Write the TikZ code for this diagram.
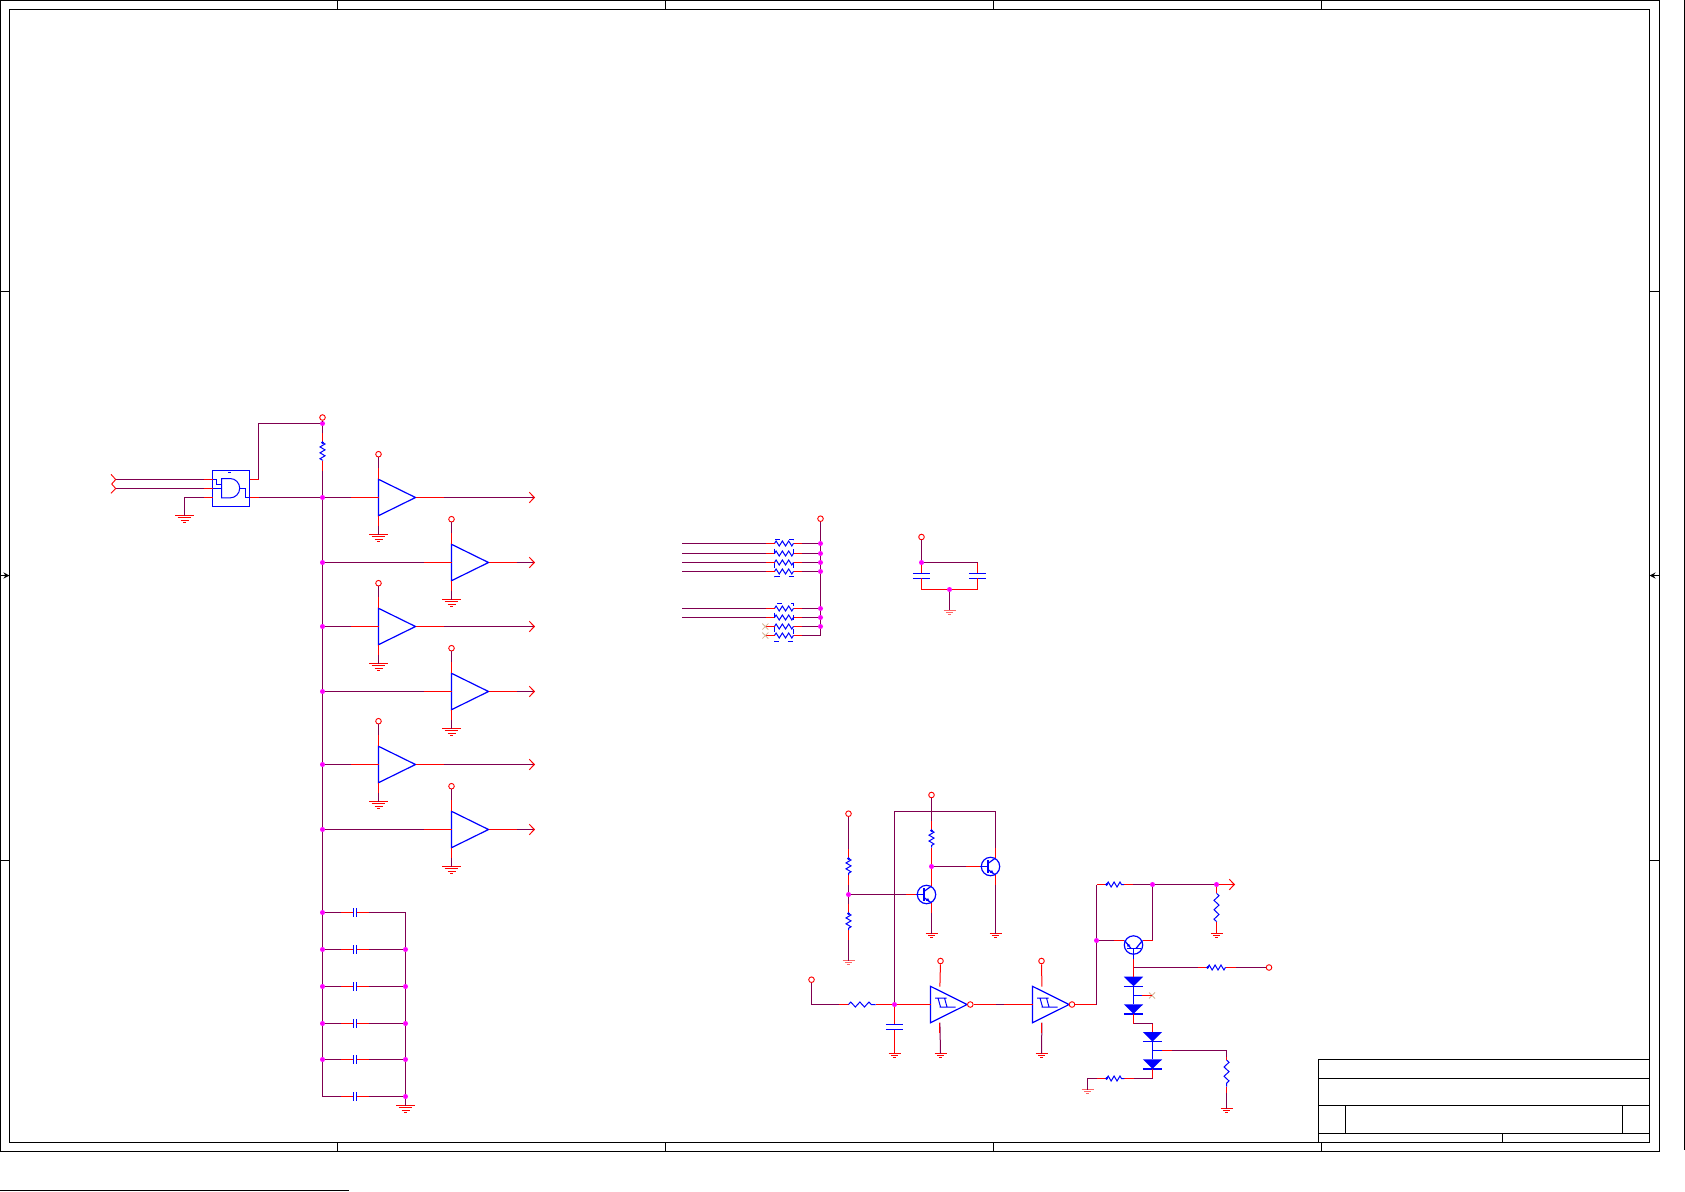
\documentclass[tikz,border=0pt]{standalone}
\usepackage{tikz}
\usetikzlibrary{arrows.meta, decorations.pathmorphing}

\definecolor{netcol}{RGB}{128,0,80}
\definecolor{ncxcol}{RGB}{214,180,150}
\definecolor{dotcol}{RGB}{255,0,255}

\tikzset{
    sheet/.style={draw=black, line width=1pt},
    wire/.style={draw=netcol, line width=1pt},
    pinred/.style={draw=red, line width=1pt},
    part/.style={draw=blue, line width=1.2pt},
    zig/.style={draw=blue, line width=1pt, decorate,
        decoration={zigzag, amplitude=2.5pt, segment length=#1}},
    zig/.default=5.9pt,
    dot/.style={circle, fill=dotcol, inner sep=0pt, minimum size=5pt},
    pwr/.style={circle, draw=red, fill=white, line width=0.9pt, inner sep=0pt, minimum size=5.6pt},
    gatebox/.style={draw=blue, line width=1.2pt, inner sep=0pt, minimum width=37pt, minimum height=36pt},
    outarrow/.style={-{Straight Barb[red, length=5pt, width=10.5pt]}},
    buf/.pic={
        \draw[part] (0,-18.2) -- (37,0) -- (0,18.2) -- cycle;
        \coordinate (-in) at (0,0);
        \coordinate (-out) at (37,0);
        \coordinate (-top) at (0,-18.2);
        \coordinate (-bot) at (0,18.2);
    },
    smt/.pic={
        \draw[part] (0,-18.2) -- (36.6,0) -- (0,18.2) -- cycle;
        \draw[draw=blue, line width=1pt] (4.6,-6.5) -- (16,-6.5) (7.5,-6.5) -- (10,2.5) (14,-6.5) -- (16.5,2.5) (9,2.5) -- (25,2.5);
        \coordinate (-in) at (0,0);
        \coordinate (-out) at (36.6,0);
        \coordinate (-top) at (9.4,-18);
        \coordinate (-bot) at (9.4,18);
    },
    gndbig/.pic={
        \draw[draw=red, line width=1pt] (-9.5,0) -- (9.5,0) (-6.8,2.4) -- (6.8,2.4) (-4,4.8) -- (4,4.8) (-1.5,7.1) -- (1.5,7.1);
    },
    gndsm/.pic={
        \draw[draw=red, line width=1pt] (-6,0) -- (6,0) (-3.6,2.1) -- (3.6,2.1) (-1.6,4.2) -- (1.6,4.2);
    },
    caph/.pic={
        \draw[part] (-1.7,-4.3) -- (-1.7,4.3) (1.7,-4.3) -- (1.7,4.3);
        \coordinate (-a) at (-1.7,0);
        \coordinate (-b) at (1.7,0);
    },
    capv/.pic={
        \draw[part] (-8.7,-2.6) -- (8.7,-2.6) (-8.7,2.6) -- (8.7,2.6);
        \coordinate (-a) at (0,-2.6);
        \coordinate (-b) at (0,2.6);
    },
    qnpn/.pic={
        \draw[part] (0,0) circle (9.2pt);
        \draw[part] (-11,0) -- (-2.6,0) (-2.6,-6.5) -- (-2.6,6.5);
        \draw[part] (-2.6,-3) -- (5,-8.5) (-2.6,3) -- (5,8.5);
        \fill[blue] (2.8,6.8) -- (-0.6,6.2) -- (1.6,3.4) -- cycle;
        \coordinate (-b) at (-11,0);
        \coordinate (-c) at (5,-8.5);
        \coordinate (-e) at (5,8.5);
    },
    qup/.pic={
        \draw[part] (0,0) circle (9.2pt);
        \draw[part] (0,3.4) -- (0,14) (-7,3.4) -- (7,3.4);
        \draw[part] (-2.5,3.4) -- (-9,-4.5) (2.5,3.4) -- (9,-4.5);
        \fill[blue] (-6.6,-1.4) -- (-5.8,2) -- (-3.2,0) -- cycle;
        \coordinate (-b) at (0,14);
        \coordinate (-e) at (-9.4,-4.5);
        \coordinate (-c) at (9,-4.5);
    },
    dio/.pic={
        \fill[blue] (-9.7,0) -- (9.7,0) -- (0,9.5) -- cycle;
        \draw[part] (-9.7,9.6) -- (9.7,9.6);
        \coordinate (-a) at (0,0);
        \coordinate (-k) at (0,9.6);
    },
    noconn/.pic={
        \draw[draw=ncxcol, line width=0.8pt] (-3,-3) -- (3,3) (-3,3) -- (3,-3);
    },
}

\begin{document}
\begin{tikzpicture}[x=1pt, y=-1pt]
    \useasboundingbox (0,0) rectangle (1685,1191);

    % sheet frame
    \draw[sheet] (0.5,0.5) rectangle (1659.5,1151.5);
    \draw[sheet] (9.5,9.5) rectangle (1649.5,1142.5);
    \draw[sheet] (1684.5,0) -- (1684.5,1150);
    \draw[sheet] (0,1190.5) -- (349,1190.5);
    \foreach \x in {337.5,665.5,993.5,1321.5} {
        \draw[sheet] (\x,0.5) -- (\x,9.5);
        \draw[sheet] (\x,1142.5) -- (\x,1151.5);
    }
    \foreach \y in {291.5,860.5} {
        \draw[sheet] (0.5,\y) -- (9.5,\y);
        \draw[sheet] (1649.5,\y) -- (1659.5,\y);
    }
    \draw[sheet, -{Stealth[length=6pt, width=6pt]}] (0.5,575.5) -- (9.5,575.5);
    \draw[sheet, -{Stealth[length=6pt, width=6pt]}] (1659.5,575.5) -- (1649.5,575.5);

    % title block
    \draw[sheet] (1318.5,1059.5) rectangle (1649.5,1142.5);
    \draw[sheet] (1318.5,1078.5) -- (1649.5,1078.5);
    \draw[sheet] (1318.5,1105.5) -- (1649.5,1105.5);
    \draw[sheet] (1318.5,1133.5) -- (1649.5,1133.5);
    \draw[sheet] (1345.5,1105.5) -- (1345.5,1133.5);
    \draw[sheet] (1622.5,1105.5) -- (1622.5,1133.5);
    \draw[sheet] (1502.5,1133.5) -- (1502.5,1142.5);

    % input gate
    \node[pwr] (vccA) at (322.5,417.5) {};
    \node[dot] (jA) at (322.5,423.5) {};
    \node[dot] (jB) at (322.5,497.5) {};
    \node[gatebox] (gate) at (231,488.5) {};
    \coordinate (rAt) at (322.5,442.5);
    \coordinate (rAb) at (322.5,460.5);
    \coordinate (gA) at (212.5,479.5);
    \coordinate (gB) at (212.5,488.5);
    \coordinate (gC) at (212.5,497.5);
    \coordinate (gV) at (249.5,479.5);
    \coordinate (gO) at (249.5,497.5);
    \coordinate (inA) at (115.7,479.5);
    \coordinate (inB) at (115.7,488.5);
    \coordinate (gndA) at (184.5,515.5);
    \coordinate (cV) at (258.5,423.5);
    \coordinate (busEnd) at (322.5,1096.5);
    \pic at (gndA) {gndbig};

    \draw[wire] (vccA) -- (jA);
    \draw[wire] (jA) -- (cV) -- (cV |- gV) -- (gV);
    \draw[pinred] (gV) -- (cV |- gV);
    \draw[wire] (jA) -- (rAt);
    \draw[pinred] (rAt) -- ++(0,-10);
    \draw[wire] (rAb) -- (jB);
    \draw[pinred] (rAb) -- ++(0,10);
    \draw[wire] (jB) -- (busEnd);
    \draw[wire] (inA) -- (gA);
    \draw[wire] (inB) -- (gB);
    \draw[wire] (gndA) |- (gC);
    \draw[pinred] (gA) -- ++(-9,0);
    \draw[pinred] (gB) -- ++(-9,0);
    \draw[pinred] (gC) -- ++(-9,0);
    \draw[wire] (gO) -- (jB);
    \draw[pinred] (gO) -- ++(9,0);
    \draw[pinred, line width=0.9pt] (111,474.3) -- (inA) -- (111.7,484) -- (inB) -- (111,493.3);

    % gate symbol
    \draw[draw=blue, line width=1pt] (221.5,478.5) -- (230,478.5) arc (90:-90:9.7pt) -- (221.5,497.9) -- cycle;
    \draw[draw=blue, line width=1pt] (gA) -- (216.5,479.5) -- (216.5,484.5) -- (221.5,484.5);
    \draw[draw=blue, line width=1pt] (gB) -- (221.5,488.5);
    \draw[draw=blue, line width=1pt] (239.7,488.5) -- (245.5,488.5) -- (245.5,497.5) -- (gO);
    \draw[draw=blue, line width=0.8pt] (228,472.5) -- (231,472.5);

    % buffers along the bus
    \foreach \n/\px/\py in {1/378.5/497.5, 2/451.5/562.5, 3/378.5/626.5, 4/451.5/691.5, 5/378.5/764.5, 6/451.5/829.5} {
        \node[pwr] (vcc\n) at (\px,\py-43.3) {};
        \pic (u\n) at (\px,\py) {buf};
        \coordinate (gu\n) at (\px,\py+37);
        \coordinate (o\n) at (535,\py);
        \pic at (gu\n) {gndbig};
        \draw[wire] (vcc\n) -- (u\n-top);
        \draw[pinred] (u\n-top) -- ++(0,-11);
        \draw[wire] (u\n-bot) -- (gu\n);
        \draw[pinred] (u\n-bot) -- ++(0,10);
        \draw[wire, outarrow] (u\n-out) -- (o\n);
        \draw[pinred] (u\n-out) -- ++(28,0);
    }
    \foreach \n/\py in {2/562.5,3/626.5,4/691.5,5/764.5,6/829.5} {
        \node[dot] (jb\n) at (322.5,\py) {};
        \draw[wire] (jb\n) -- (u\n-in);
        \draw[pinred] (u\n-in) -- ++(-28,0);
    }
    \draw[wire] (jB) -- (u1-in);
    \draw[pinred] (u1-in) -- ++(-28,0);

    % decoupling caps
    \foreach \n/\y in {1/912.5,2/949.5,3/986.5,4/1023.5,5/1059.5,6/1096.5} {
        \coordinate (cl\n) at (322.5,\y);
        \coordinate (cr\n) at (405.5,\y);
        \pic (c\n) at (355,\y) {caph};
        \draw[wire] (cl\n) -- (c\n-a);
        \draw[wire] (c\n-b) -- (cr\n);
        \draw[pinred] (c\n-a) -- ++(-12,0);
        \draw[pinred] (c\n-b) -- ++(12,0);
    }
    \coordinate (gndB) at (405.5,1105.5);
    \pic at (gndB) {gndbig};
    \draw[wire] (cr1) -- (gndB);
    \foreach \n in {1,2,3,4,5} { \node[dot] (dl\n) at (cl\n) {}; }
    \foreach \n in {2,3,4,5,6} { \node[dot] (dr\n) at (cr\n) {}; }

    % resistor pack
    \node[pwr] (vccP) at (820.5,518.7) {};
    \coordinate (pEnd) at (820.5,635.5);
    \draw[wire] (vccP) -- (pEnd);
    \foreach \n/\y in {1/543.5,2/553.5,3/562.5,4/571.5,5/608.5,6/617.5,7/626.5,8/635.5} {
        \coordinate (pl\n) at (774.5,\y);
        \coordinate (pr\n) at (793.5,\y);
        \draw[zig=6.3pt] (pl\n) -- (pr\n);
        \draw[wire] (pr\n) -- (pr\n -| pEnd);
        \draw[pinred] (pr\n) -- ++(8.4,0);
    }
    \foreach \n/\y in {1/543.5,2/553.5,3/562.5,4/571.5,5/608.5,6/617.5} {
        \coordinate (pi\n) at (682,\y);
        \draw[wire] (pi\n) -- (pl\n);
        \draw[pinred] (pl\n) -- ++(-9,0);
    }
    \foreach \n/\y in {7/626.5,8/635.5} {
        \coordinate (nc\n) at (765.3,\y);
        \draw[pinred] (pl\n) -- (nc\n);
        \pic at (nc\n) {noconn};
    }
    \foreach \n/\y in {1/543.5,2/553.5,3/562.5,4/571.5,5/608.5,6/617.5,7/626.5} {
        \node[dot] (jp\n) at (820.5,\y) {};
    }
    \draw[part, dash pattern=on 5pt off 9pt, dash phase=5pt] (774.5,539.5) rectangle (793.5,576.5);
    \draw[part, dash pattern=on 5pt off 9pt, dash phase=5pt] (774.5,603.5) rectangle (793.5,641.5);

    % pair of caps
    \node[pwr] (vccS) at (921.5,537) {};
    \node[dot] (jS) at (921.5,562.5) {};
    \node[dot] (jT) at (949.5,589.5) {};
    \pic (cA) at (921.5,575.7) {capv};
    \pic (cB) at (977.5,575.7) {capv};
    \coordinate (gndS) at (949.5,610);
    \pic[opacity=0.6] at (gndS) {gndsm};
    \draw[wire] (vccS) -- (jS);
    \draw[wire] (jS) -- (977.5,562.5);
    \draw[pinred] (jS) -- (cA-a);
    \draw[pinred] (977.5,562.5) -- (cB-a);
    \draw[pinred] (cA-b) |- (jT);
    \draw[pinred] (cB-b) |- (jT);
    \draw[wire] (jT) -- (gndS);

    % divider and transistors
    \node[pwr] (vccC) at (848.5,813.7) {};
    \node[dot] (jC) at (848.5,894.5) {};
    \coordinate (rCt) at (848.5,858.5);
    \coordinate (rCb) at (848.5,875);
    \coordinate (rDt) at (848.5,913.5);
    \coordinate (rDb) at (848.5,930);
    \coordinate (gndC) at (848.5,960.5);
    \pic[opacity=0.6] at (gndC) {gndsm};
    \draw[wire] (vccC) -- (rCt);
    \draw[wire] (rCb) -- (jC);
    \draw[wire] (jC) -- (rDt);
    \draw[wire] (rDb) -- (gndC);
    \foreach \p in {rCt,rDt} { \draw[pinred] (\p) -- ++(0,-10); }
    \foreach \p in {rCb,rDb} { \draw[pinred] (\p) -- ++(0,10); }

    \pic (qA) at (926.5,894.5) {qnpn};
    \pic (qB) at (990.5,866.5) {qnpn};
    \node[pwr] (vccE) at (931.5,795) {};
    \node[dot] (jE) at (931.5,866.5) {};
    \node[dot] (jF) at (894.5,1004.5) {};
    \coordinate (rEt) at (931.5,830.7);
    \coordinate (rEb) at (931.5,847.7);
    \coordinate (gndE) at (931.5,933.5);
    \coordinate (gndQ) at (995.5,933.5);
    \coordinate (cTr) at (995.5,811.5);
    \coordinate (cTl) at (894.5,811.5);
    \pic at (gndE) {gndsm};
    \pic at (gndQ) {gndsm};
    \draw[wire] (jC) -- (qA-b);
    \draw[pinred] (qA-b) -- ++(-10,0);
    \draw[pinred] (qA-c) -- (jE);
    \draw[pinred] (jE) -- (rEb);
    \draw[wire] (rEt) -- (vccE);
    \draw[pinred] (rEt) -- ++(0,-10);
    \draw[wire] (qA-e) -- (gndE);
    \draw[pinred] (qA-e) -- ++(0,10);
    \draw[wire] (jE) -- (qB-b);
    \draw[pinred] (qB-b) -- ++(-14,0);
    \draw[wire] (qB-c) -- (cTr) -- (cTl) -- (jF);
    \draw[pinred] (qB-c) -- ++(0,-10);
    \draw[wire] (qB-e) -- (gndQ);
    \draw[pinred] (qB-e) -- ++(0,10);

    % schmitt chain
    \node[pwr] (vccF) at (811.5,979.7) {};
    \coordinate (rFl) at (848.5,1004.5);
    \coordinate (rFr) at (875.5,1004.5);
    \pic (uA) at (930.5,1004.5) {smt};
    \pic (uB) at (1032.5,1004.5) {smt};
    \node[pwr] (bubA) at (970.3,1004.5) {};
    \node[pwr] (bubB) at (1072,1004.5) {};
    \pic (cF) at (894.5,1026.9) {capv};
    \coordinate (gndF) at (894.5,1053.5);
    \pic at (gndF) {gndsm};
    \draw[wire] (vccF) |- (rFl);
    \draw[pinred] (rFl) -- ++(-10,0);
    \draw[pinred] (rFr) -- (jF);
    \draw[pinred] (jF) -- (uA-in);
    \draw[pinred] (jF) -- (cF-a);
    \draw[pinred] (cF-b) -- (gndF);
    \draw[pinred] (bubA) -- (uB-in);
    \draw[wire] (996,1004.5) -- (1004,1004.5);
    \foreach \u/\x in {uA/940.5,uB/1041.5} {
        \node[pwr] (vcc\u) at (\x,961) {};
        \coordinate (gnd\u) at (\x,1053.5);
        \pic at (gnd\u) {gndsm};
        \draw[pinred] (vcc\u) -- (\u-top);
        \draw[wire] (\u-bot) -- (gnd\u);
        \draw[pinred] (\u-bot) -- ++(0,10);
    }

    % output stage
    \node[dot] (jG) at (1096.5,940.5) {};
    \node[dot] (jH) at (1152.5,884.5) {};
    \node[dot] (jI) at (1216.5,884.5) {};
    \coordinate (cG) at (1096.5,884.5);
    \coordinate (cB) at (1096.5,1004.5);
    \coordinate (cH) at (1152.5,940.5);
    \coordinate (rGl) at (1106.7,884.5);
    \coordinate (rGr) at (1124,884.5);
    \coordinate (rIt) at (1216.5,893.3);
    \coordinate (rIb) at (1216.5,921.7);
    \coordinate (gndI) at (1216.5,933.5);
    \coordinate (oG) at (1235,884.5);
    \pic at (gndI) {gndsm};
    \draw[pinred] (bubB) -- (cB);
    \draw[wire] (cB) -- (jG);
    \draw[wire] (jG) -- (cG);
    \draw[pinred] (cG) -- (rGl);
    \draw[wire] (rGr) -- (jH);
    \draw[pinred] (rGr) -- ++(9,0);
    \draw[wire] (jH) -- (jI);
    \draw[pinred, -{Straight Barb[length=5pt, width=10.5pt]}] (jI) -- (oG);
    \draw[pinred] (jI) -- (rIt);
    \draw[pinred] (rIb) -- (gndI);
    \draw[wire] (jH) -- (cH);

    \pic (qC) at (1133.5,945) {qup};
    \draw[wire] (jG) -- (qC-e);
    \draw[pinred] (qC-e) -- ++(-10,0);
    \draw[pinred] (qC-c) -- (cH);

    \pic (dA) at (1133.5,976.7) {dio};
    \pic (dB) at (1133.5,1004.3) {dio};
    \pic (dC) at (1152.5,1032) {dio};
    \pic (dD) at (1152.5,1059.3) {dio};
    \coordinate (cK) at (1133.5,967.5);
    \coordinate (rKl) at (1207.7,967.5);
    \coordinate (rKr) at (1225.7,967.5);
    \node[pwr] (vccK) at (1269,967.5) {};
    \draw[pinred] (qC-b) -- (cK);
    \draw[pinred] (cK) -- (dA-a);
    \draw[wire] (cK) -- (rKl);
    \draw[pinred] (rKl) -- ++(-10,0);
    \draw[wire] (rKr) -- (vccK);
    \draw[pinred] (rKr) -- ++(10,0);

    \coordinate (tA) at (1133.5,995.5);
    \coordinate (ncA) at (1152,995.5);
    \pic at (ncA) {noconn};
    \draw[part] (dA-k) -- (dB-a);
    \draw[part] (tA) -- ++(8,0);
    \draw[pinred] (1141.5,995.5) -- (ncA);

    \coordinate (cL) at (1133.5,1023.5);
    \coordinate (cM) at (1152.5,1023.5);
    \draw[pinred] (dB-k) -- (cL);
    \draw[wire] (cL) -- (cM);
    \draw[pinred] (cM) -- (dC-a);

    \coordinate (tB) at (1152.5,1050.5);
    \coordinate (cN) at (1226.5,1050.5);
    \coordinate (rLt) at (1226.5,1060);
    \coordinate (rLb) at (1226.5,1086.7);
    \coordinate (gndL) at (1226.5,1108.5);
    \pic at (gndL) {gndsm};
    \draw[part] (dC-k) -- (dD-a);
    \draw[wire] (tB) -- (cN) -- (rLt);
    \draw[pinred] (tB) -- ++(19,0);
    \draw[part] (tB) -- ++(9,0);
    \draw[pinred] (rLt) -- ++(0,-3);
    \draw[wire] (rLb) -- (gndL);
    \draw[pinred] (rLb) -- ++(0,6);

    \coordinate (cO) at (1152.5,1078.5);
    \coordinate (rMr) at (1124.3,1078.5);
    \coordinate (rMl) at (1106.7,1078.5);
    \coordinate (cP) at (1087.5,1078.5);
    \coordinate (gndM) at (1087.5,1089.5);
    \pic[opacity=0.6] at (gndM) {gndsm};
    \draw[pinred] (dD-k) -- (cO);
    \draw[wire] (cO) -- (rMr);
    \draw[pinred] (rMr) -- ++(10,0);
    \draw[wire] (rMl) -- (cP) -- (gndM);
    \draw[pinred] (rMl) -- ++(-10,0);

    % resistors
    \foreach \a/\b in {rAt/rAb, rCt/rCb, rDt/rDb, rEt/rEb} {
        \draw[zig] (\a) -- (\b);
        \fill[blue] (\a) circle (1.5pt);
    }
    \foreach \a/\b in {rGl/rGr, rKl/rKr, rMl/rMr} {
        \draw[zig] (\a) -- (\b);
        \fill[blue] (\a) circle (1.5pt);
    }
    \draw[zig=9.1pt] (rFl) -- (rFr);
    \draw[zig=9.3pt] (rLt) -- (rLb);
    \draw[zig=9.4pt] (rIt) -- (rIb);
\end{tikzpicture}
\end{document}
